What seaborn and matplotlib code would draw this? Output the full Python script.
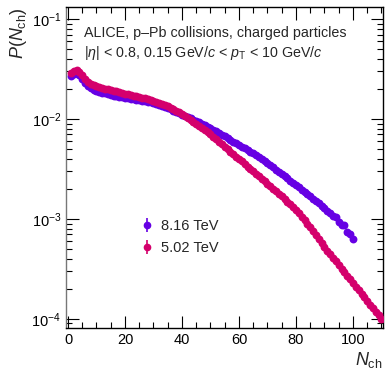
import matplotlib
matplotlib.use("Agg")
import matplotlib.pyplot as plt
from matplotlib.ticker import MultipleLocator, LogLocator, NullFormatter
import numpy as np
import pandas as pd
import seaborn as sns

# values (log10 of P(N_ch))
n_816 = list(range(1, 101))
logp_816 = [
    -1.570, -1.545, -1.537, -1.560, -1.595, -1.635, -1.665, -1.690, -1.705, -1.715,
    -1.725, -1.735, -1.743, -1.751, -1.758, -1.765, -1.771, -1.777, -1.783, -1.789,
    -1.794, -1.799, -1.804, -1.809, -1.813, -1.818, -1.823, -1.829, -1.834, -1.840,
    -1.849, -1.858, -1.868, -1.879, -1.890, -1.903, -1.916, -1.929, -1.942, -1.955,
    -1.968, -1.981, -1.994, -2.007, -2.020, -2.034, -2.048, -2.062, -2.076, -2.090,
    -2.107, -2.124, -2.141, -2.158, -2.175, -2.192, -2.209, -2.226, -2.243, -2.260,
    -2.277, -2.294, -2.311, -2.328, -2.345, -2.364, -2.383, -2.402, -2.421, -2.440,
    -2.462, -2.484, -2.506, -2.528, -2.550, -2.572, -2.594, -2.616, -2.638, -2.660,
    -2.683, -2.706, -2.729, -2.752, -2.775, -2.798, -2.821, -2.844, -2.867, -2.890,
    -2.916, -2.942, -2.975, -2.985, -3.030, -3.060, -3.065, -3.130, -3.150, -3.200,
]

n_502 = list(range(1, 111))
logp_502 = [
    -1.540, -1.515, -1.510, -1.530, -1.560, -1.595, -1.625, -1.645, -1.660, -1.670,
    -1.680, -1.690, -1.695, -1.703, -1.710, -1.717, -1.724, -1.731, -1.738, -1.745,
    -1.752, -1.759, -1.766, -1.773, -1.780, -1.786, -1.792, -1.799, -1.807, -1.815,
    -1.825, -1.835, -1.846, -1.858, -1.870, -1.885, -1.900, -1.916, -1.933, -1.950,
    -1.968, -1.987, -2.006, -2.025, -2.045, -2.066, -2.087, -2.109, -2.132, -2.155,
    -2.180, -2.205, -2.230, -2.255, -2.280, -2.304, -2.328, -2.352, -2.376, -2.400,
    -2.425, -2.450, -2.477, -2.500, -2.525, -2.550, -2.575, -2.600, -2.625, -2.650,
    -2.674, -2.698, -2.722, -2.746, -2.770, -2.798, -2.826, -2.854, -2.882, -2.910,
    -2.944, -2.978, -3.012, -3.046, -3.080, -3.120, -3.160, -3.200, -3.240, -3.280,
    -3.316, -3.352, -3.388, -3.424, -3.460, -3.496, -3.532, -3.568, -3.604, -3.640,
    -3.676, -3.712, -3.748, -3.784, -3.820, -3.856, -3.892, -3.928, -3.964, -4.000,
]

labels = ["8.16 TeV", "5.02 TeV"]
colors = {"8.16 TeV": "#6600e4", "5.02 TeV": "#d4006c"}

df = pd.concat([
    pd.DataFrame({"nch": n_816, "p": 10 ** np.array(logp_816), "energy": "8.16 TeV"}),
    pd.DataFrame({"nch": n_502, "p": 10 ** np.array(logp_502), "energy": "5.02 TeV"}),
])

sns.set_theme(style="ticks")
plt.rcParams["font.family"] = ["Liberation Sans", "DejaVu Sans"]
plt.rcParams["mathtext.fontset"] = "custom"
plt.rcParams["mathtext.rm"] = "Liberation Sans"
plt.rcParams["mathtext.it"] = "Liberation Sans:italic"
plt.rcParams["mathtext.bf"] = "Liberation Sans:bold"

fig = plt.figure(figsize=(3.86, 3.69), dpi=100)
ax = fig.add_axes([0.171, 0.111, 0.821, 0.870])

for lab in labels:
    sub = df[df["energy"] == lab]
    sns.scatterplot(data=sub, x="nch", y="p", ax=ax, color=colors[lab],
                    s=32, linewidth=0, legend=False, zorder=3)

ax.set_yscale("log")
ax.set_xlim(-0.7, 110.5)
ax.set_ylim(8.1e-5, 0.132)

# ROOT-like ticks
ax.xaxis.set_major_locator(MultipleLocator(20))
ax.xaxis.set_minor_locator(MultipleLocator(5))
ax.yaxis.set_major_locator(LogLocator(base=10))
ax.yaxis.set_minor_locator(LogLocator(base=10, subs=np.arange(2, 10)))
ax.yaxis.set_minor_formatter(NullFormatter())
ax.tick_params(which="both", direction="in", top=True, right=True, labelsize=10.5,
               colors="black", width=0.8)
ax.tick_params(which="major", length=9)
ax.tick_params(which="minor", length=4.5)
for sp in ax.spines.values():
    sp.set_linewidth(1.0)
    sp.set_color("black")
ax.spines["left"].set_color("#777777")

ax.set_xlabel(r"$N_{\rm ch}$", loc="right", fontsize=13, labelpad=2)
ax.set_ylabel(r"$P(N_{\rm ch})$", loc="top", fontsize=13, labelpad=2)

ax.text(0.058, 0.92, "ALICE, p\u2013Pb collisions, charged particles",
        transform=ax.transAxes, fontsize=10.3, va="center", ha="left")
ax.text(0.058, 0.857,
        r"|$\eta$| < 0.8, 0.15 GeV/$c$ < $p_{\rm T}$ < 10 GeV/$c$",
        transform=ax.transAxes, fontsize=10.3, va="center", ha="left")

handles = []
for lab in labels:
    h = ax.errorbar([], [], yerr=[], fmt="o", color=colors[lab], ms=4.5,
                    elinewidth=1.2, capsize=0, label=lab)
    handles.append(h)
ax.legend(handles=handles, labels=labels, loc="upper left",
          bbox_to_anchor=(0.19, 0.38), frameon=False, fontsize=10.5,
          handlelength=1.0, handletextpad=0.5, labelspacing=0.55)

fig.savefig("out.png", dpi=100)
